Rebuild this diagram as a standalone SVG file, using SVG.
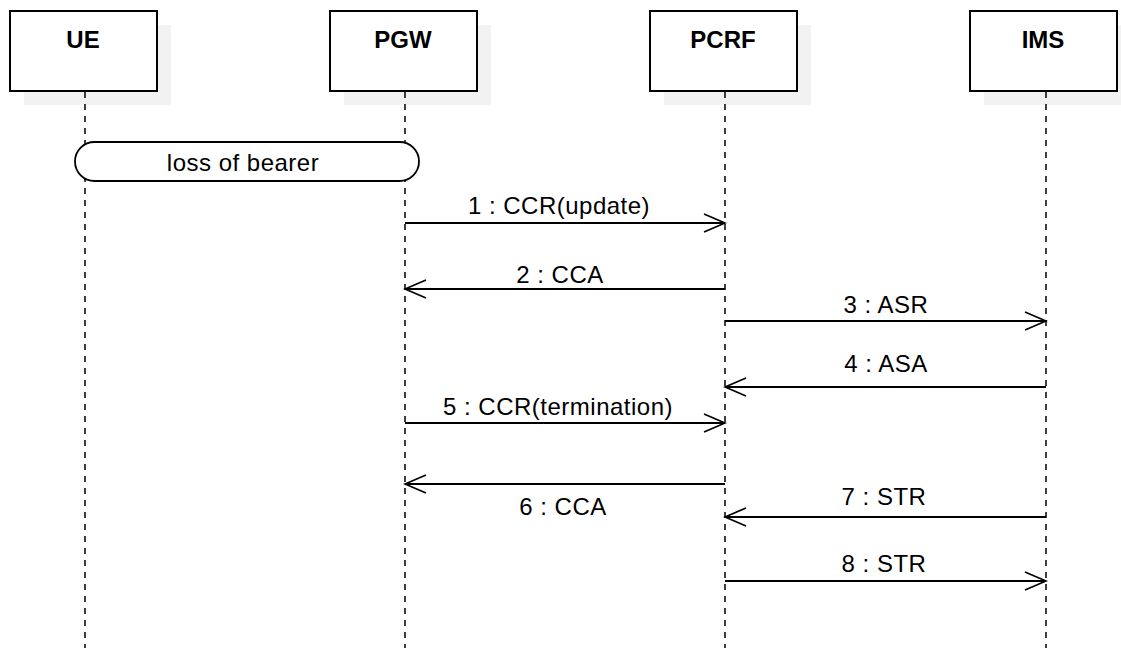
<svg xmlns="http://www.w3.org/2000/svg" width="1121" height="648" viewBox="0 0 1121 648">
<defs>
<marker id="arr" markerWidth="24" markerHeight="22" refX="22" refY="10" orient="auto" markerUnits="userSpaceOnUse">
<path d="M1,1 L22,10 L1,19" fill="none" stroke="#000" stroke-width="1.8"/>
</marker>
</defs>
<style>
.shadow{fill:#f2f2f2;stroke:none}
.box{fill:#fff;stroke:#000;stroke-width:2}
.title{font-family:"Liberation Sans",Arial,sans-serif;font-size:24px;font-weight:bold;text-anchor:middle;fill:#000}
.life{stroke:#000;stroke-width:1.5;stroke-dasharray:6 6;fill:none}
.msg{stroke:#000;stroke-width:1.8;fill:none;marker-end:url(#arr)}
.lbl{font-family:"Liberation Sans",Arial,sans-serif;font-size:24px;letter-spacing:0.5px;text-anchor:middle;fill:#000}
</style>
<rect width="1121" height="648" fill="#fff"/>
<g id="UE">
<rect class="shadow" x="24" y="25" width="147" height="80"/>
<rect class="box" x="10" y="11" width="147" height="80"/>
<text class="title" x="83" y="48">UE</text>
<line class="life" x1="85" y1="92" x2="85" y2="648"/>
</g>
<g id="PGW">
<rect class="shadow" x="344" y="25" width="147" height="80"/>
<rect class="box" x="330" y="11" width="147" height="80"/>
<text class="title" x="403" y="48">PGW</text>
<line class="life" x1="405" y1="92" x2="405" y2="648"/>
</g>
<g id="PCRF">
<rect class="shadow" x="664" y="25" width="147" height="80"/>
<rect class="box" x="650" y="11" width="147" height="80"/>
<text class="title" x="723" y="48">PCRF</text>
<line class="life" x1="725" y1="92" x2="725" y2="648"/>
</g>
<g id="IMS">
<rect class="shadow" x="984" y="25" width="147" height="80"/>
<rect class="box" x="970" y="11" width="147" height="80"/>
<text class="title" x="1043" y="48">IMS</text>
<line class="life" x1="1046" y1="92" x2="1046" y2="648"/>
</g>
<g id="loss-of-bearer">
<rect x="75" y="142" width="344" height="39" rx="19.5" ry="19.5" fill="#fff" stroke="#000" stroke-width="1.8"/>
<text class="lbl" x="243" y="171">loss of bearer</text>
</g>
<g id="connectors">
<line class="msg" x1="405" y1="223" x2="725" y2="223"/>
<text class="lbl" x="559" y="214">1 : CCR(update)</text>
<line class="msg" x1="725" y1="289" x2="405" y2="289"/>
<text class="lbl" x="560" y="283">2 : CCA</text>
<line class="msg" x1="725" y1="321" x2="1046" y2="321"/>
<text class="lbl" x="886" y="313">3 : ASR</text>
<line class="msg" x1="1046" y1="387" x2="725" y2="387"/>
<text class="lbl" x="886" y="372">4 : ASA</text>
<line class="msg" x1="405" y1="423" x2="725" y2="423"/>
<text class="lbl" x="558" y="415">5 : CCR(termination)</text>
<line class="msg" x1="725" y1="484" x2="405" y2="484"/>
<text class="lbl" x="563" y="515">6 : CCA</text>
<line class="msg" x1="1046" y1="517" x2="725" y2="517"/>
<text class="lbl" x="884" y="505">7 : STR</text>
<line class="msg" x1="725" y1="581" x2="1046" y2="581"/>
<text class="lbl" x="884" y="572">8 : STR</text>
</g>
</svg>
